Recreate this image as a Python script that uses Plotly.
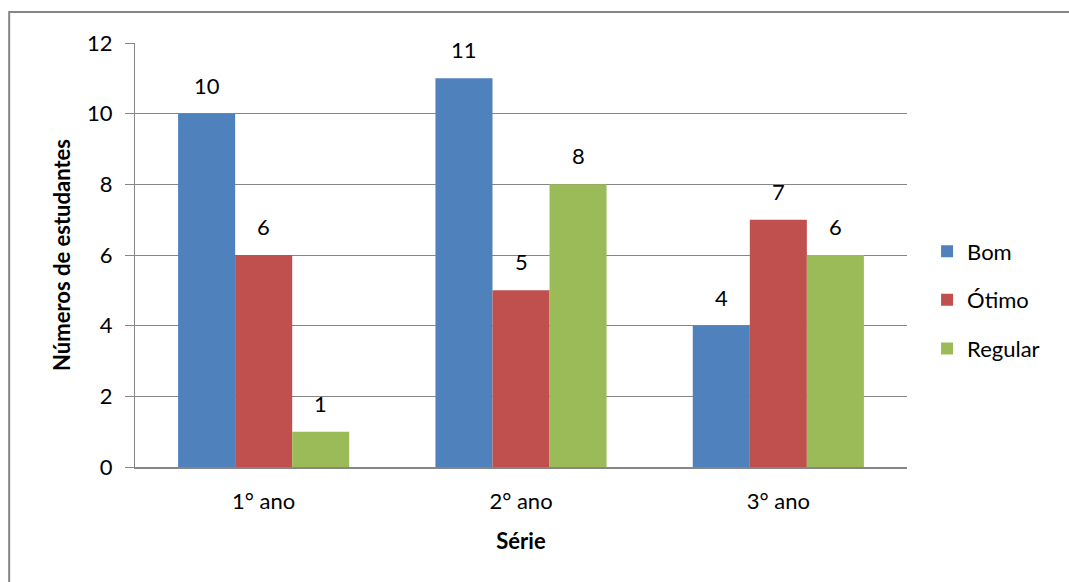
import plotly.graph_objects as go

categories = ["1° ano", "2° ano", "3° ano"]
bom = [10, 11, 4]
otimo = [6, 5, 7]
regular = [1, 8, 6]
series_names = ["Bom", "Ótimo", "Regular"]
colors = ["#4F81BD", "#C0504D", "#9BBB59"]

FONT = "Lato, 'Noto Sans', sans-serif"
FS = 22

PLOT_W = 1069 - 135 - 162
BARGAP = 0.335
BAR_PX = PLOT_W / len(categories) * (1 - BARGAP) / len(series_names)

fig = go.Figure()
annotations = []
for i, (name, vals, col) in enumerate(zip(series_names, [bom, otimo, regular], colors)):
    fig.add_trace(go.Bar(
        x=categories, y=vals, name=name, legendgroup=name,
        marker=dict(color=col, line=dict(width=0)),
    ))
    for c, v in zip(categories, vals):
        annotations.append(dict(
            x=c, y=v, xref="x", yref="y", text=str(v), showarrow=False,
            xanchor="center", yanchor="bottom",
            xshift=(i - 1) * BAR_PX, yshift=13,
            font=dict(family=FONT, size=FS, color="#000000"),
        ))

fig.update_layout(
    width=1069, height=582,
    margin=dict(l=135, r=162, t=43, b=115),
    paper_bgcolor="white", plot_bgcolor="white",
    barmode="group", bargap=BARGAP, bargroupgap=0,
    font=dict(family=FONT, size=FS, color="#000000"),
    showlegend=True,
    legend=dict(x=1.026, y=0.394, xanchor="left", yanchor="middle",
                font=dict(family=FONT, size=FS), tracegroupgap=17,
                traceorder="grouped", itemwidth=30, bgcolor="rgba(0,0,0,0)"),
    xaxis=dict(
        title=dict(text="<b>Série</b>", font=dict(family=FONT, size=FS), standoff=20),
        showgrid=False, showline=True, linecolor="#868686", linewidth=1.5,
        ticks="", tickfont=dict(family=FONT, size=FS), ticklabelstandoff=14,
    ),
    yaxis=dict(
        title=dict(text="<b>Números de estudantes</b>", font=dict(family=FONT, size=FS), standoff=10),
        range=[0, 12], dtick=2, showgrid=True, gridcolor="#868686", gridwidth=1,
        showline=True, linecolor="#868686", linewidth=1,
        ticks="outside", ticklen=9, tickcolor="#868686",
        tickfont=dict(family=FONT, size=FS), zeroline=False, ticklabelstandoff=8,
    ),
    annotations=annotations,
    shapes=[dict(type="rect", xref="paper", yref="paper",
                 x0=-0.163, x1=1.4, y0=-0.5, y1=1.073,
                 line=dict(color="#868686", width=2), fillcolor="rgba(0,0,0,0)", layer="below")],
)

fig.write_html("out.html")
